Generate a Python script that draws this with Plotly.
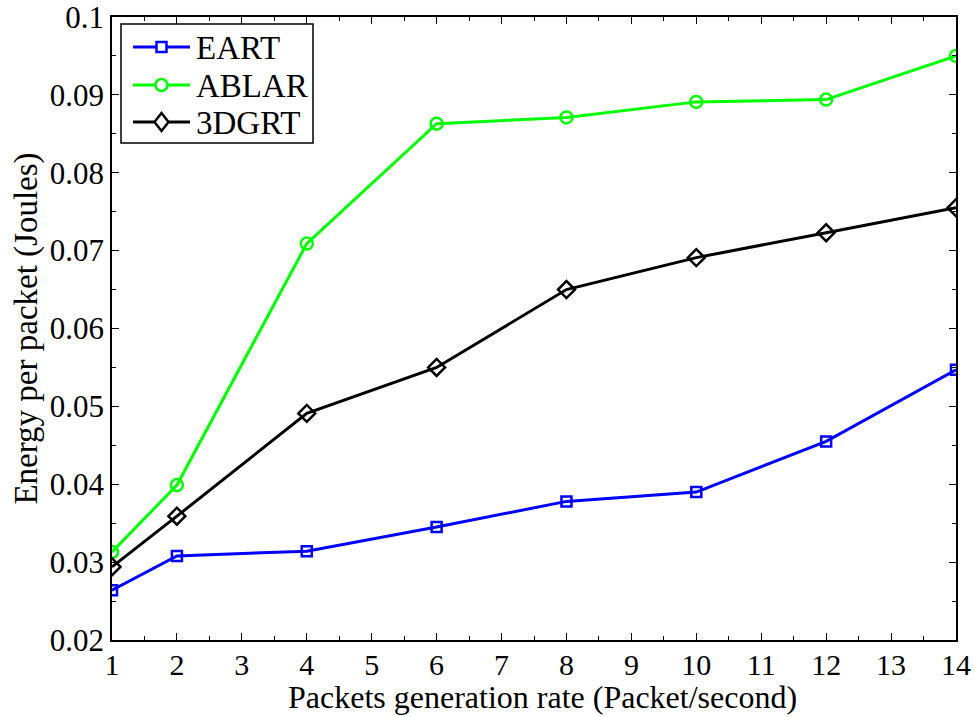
import plotly.graph_objects as go

# Packet generation rate (packets/second)
rates = [1, 2, 4, 6, 8, 10, 12, 14]

# Energy per packet (Joules) for each routing protocol
eart = [0.0264, 0.0308, 0.0314, 0.0345, 0.0378, 0.0390, 0.0455, 0.0547]
ablar = [0.0313, 0.0399, 0.0709, 0.0863, 0.0871, 0.0891, 0.0894, 0.0950]
dgrt3 = [0.0294, 0.0359, 0.0491, 0.0550, 0.0650, 0.0691, 0.0723, 0.0755]

series_names = ["EART", "ABLAR", "3DGRT"]
series_colors = ["#0000ff", "#00ff00", "#000000"]

x_ticks = list(range(1, 15))
y_ticks = [0.02, 0.03, 0.04, 0.05, 0.06, 0.07, 0.08, 0.09, 0.1]
y_tick_text = ["0.02", "0.03", "0.04", "0.05", "0.06", "0.07", "0.08", "0.09", "0.1"]

FONT = "Liberation Serif, Times New Roman, serif"
W, H = 975, 717
M_L, M_R, M_T, M_B = 112, 19, 17, 77
PW, PH = W - M_L - M_R, H - M_T - M_B


def px_x(px):
    """Horizontal pixel position -> paper coordinate."""
    return (px - M_L) / PW


def px_y(py):
    """Vertical pixel position (from top) -> paper coordinate."""
    return (H - M_B - py) / PH


fig = go.Figure()
fig.add_trace(go.Scatter(
    x=rates, y=eart, name=series_names[0], mode="lines+markers",
    line=dict(color=series_colors[0], width=3),
    marker=dict(symbol="square-open", size=10, color=series_colors[0], line=dict(width=2.5)),
))
fig.add_trace(go.Scatter(
    x=rates, y=ablar, name=series_names[1], mode="lines+markers",
    line=dict(color=series_colors[1], width=3),
    marker=dict(symbol="circle-open", size=12, color=series_colors[1], line=dict(width=2.5)),
))
fig.add_trace(go.Scatter(
    x=rates, y=dgrt3, name=series_names[2], mode="lines+markers",
    line=dict(color=series_colors[2], width=3),
    marker=dict(symbol="diamond-open", size=13, color=series_colors[2], line=dict(width=2.5)),
))

axis_common = dict(
    showgrid=False, zeroline=False, showline=True, linecolor="black", linewidth=1.5,
    mirror="ticks", ticks="inside", ticklen=7, tickwidth=1.2, tickcolor="black",
    automargin=False, ticklabeloverflow="allow",
)

fig.update_xaxes(
    range=[1, 14], tickmode="array", tickvals=x_ticks,
    ticktext=[str(v) for v in x_ticks],
    tickfont=dict(family=FONT, size=30, color="black"), ticklabelstandoff=-3,
    minor=dict(ticks="inside", ticklen=4, tickcolor="black", dtick=0.5, tick0=1, showgrid=False),
    **axis_common,
)
fig.update_yaxes(
    range=[0.02, 0.1], tickmode="array", tickvals=y_ticks, ticktext=y_tick_text,
    tickfont=dict(family=FONT, size=31, color="black"),
    minor=dict(ticks="inside", ticklen=4, tickcolor="black", dtick=0.005, tick0=0.02, showgrid=False),
    title=dict(text="Energy per packet (Joules)",
               font=dict(family=FONT, size=33, color="black"), standoff=2),
    **axis_common,
)

# x-axis title placed as an annotation along the bottom edge
fig.add_annotation(
    text="Packets generation rate (Packet/second)", xref="paper", yref="paper",
    x=px_x(542), y=px_y(717), xanchor="center", yanchor="bottom", showarrow=False,
    font=dict(family=FONT, size=32, color="black"),
)

# Legend box drawn in the upper-left corner
shapes = [dict(
    type="rect", xref="paper", yref="paper", layer="above",
    x0=px_x(121), x1=px_x(313), y0=px_y(143), y1=px_y(24),
    fillcolor="white", line=dict(color="black", width=1.5),
)]
row_y = [47, 85, 122]
marker_paths = [
    "M -5,-5 L 5,-5 L 5,5 L -5,5 Z",
    None,
    "M 0,-9 L 7,0 L 0,9 L -7,0 Z",
]
for name, color, ry, path in zip(series_names, series_colors, row_y, marker_paths):
    shapes.append(dict(
        type="line", xref="paper", yref="paper", layer="above",
        x0=px_x(133), x1=px_x(190), y0=px_y(ry), y1=px_y(ry),
        line=dict(color=color, width=3),
    ))
    common = dict(xref="paper", yref="paper", layer="above",
                  xsizemode="pixel", ysizemode="pixel",
                  xanchor=px_x(161.5), yanchor=px_y(ry),
                  fillcolor="white", line=dict(color=color, width=2.5))
    if path is None:
        shapes.append(dict(type="circle", x0=-6, x1=6, y0=-6, y1=6, **common))
    else:
        shapes.append(dict(type="path", path=path, **common))
    fig.add_annotation(
        text=name, xref="paper", yref="paper", x=px_x(194), y=px_y(ry + 1),
        xanchor="left", yanchor="middle", showarrow=False,
        font=dict(family=FONT, size=33, color="black"),
    )

fig.update_layout(
    width=W, height=H,
    margin=dict(l=M_L, r=M_R, t=M_T, b=M_B),
    plot_bgcolor="white", paper_bgcolor="white",
    font=dict(family=FONT, color="black"),
    showlegend=False,
    shapes=shapes,
)

fig.write_html("out.html")
